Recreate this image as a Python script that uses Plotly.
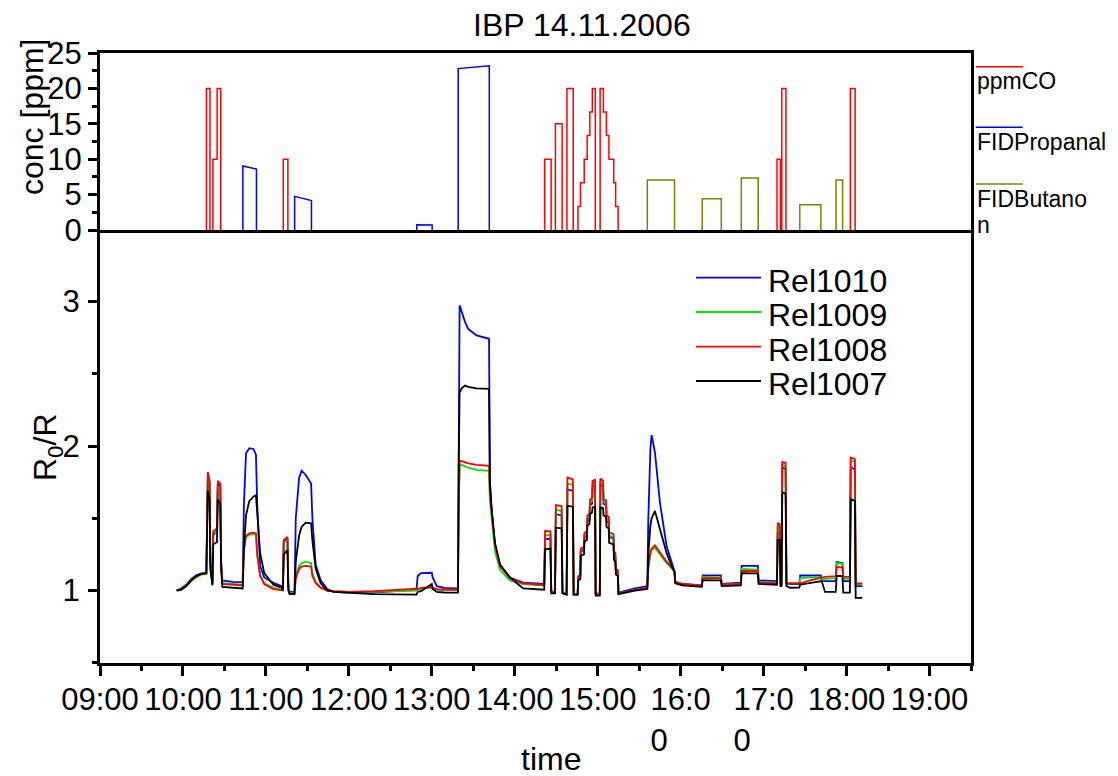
import plotly.graph_objects as go

W, H = 1118, 776
ML, MR, MT, MB = 100, 147, 53, 113
PW = W - ML - MR
PH = H - MT - MB
SPLIT_PX = 230


def px(x):
    return (x - ML) / PW


def py(y):
    return (H - MB - y) / PH


FONT = "Liberation Sans, Arial, sans-serif"

# ---------------- top panel data (ppm) ----------------
co_t = [9.924, 10.283, 10.326, 10.361, 10.412, 10.455, 11.209, 11.265,
        14.360, 14.438, 14.490, 14.571, 14.629, 14.705,
        14.762, 14.792, 14.837, 14.873, 14.905, 14.935, 14.971,
        15.029, 15.068, 15.104, 15.135, 15.193, 15.216, 15.246,
        17.162, 17.202, 17.219, 17.269, 18.046, 18.103, 18.19]
co_v = [0, 20, 0, 10, 20, 0, 10, 0,
        10, 0, 15, 0, 20, 0,
        3.33, 6.67, 10, 13.33, 16.67, 20, 0,
        20, 16.67, 13.33, 10, 6.67, 3.33, 0,
        10, 0, 20, 0, 20, 0, 0]

prop_start = [10.722, 11.346, 12.819, 13.318]
prop_end = [10.886, 11.549, 13.004, 13.693]
prop_v0 = [9.05, 4.75, 0.75, 22.8]
prop_v1 = [8.6, 4.15, 0.7, 23.2]

but_start = [15.598, 16.260, 16.731, 17.436, 17.873]
but_end = [15.926, 16.490, 16.935, 17.690, 17.952]
but_v = [7.05, 4.4, 7.33, 3.57, 7.05]

# ---------------- bottom panel data (R0/R) ----------------
rel_t = [9.924, 9.98, 10.04, 10.10, 10.16, 10.22, 10.282,
         10.29, 10.30, 10.322, 10.33, 10.355, 10.365, 10.41, 10.42, 10.45, 10.46, 10.475,
         10.60, 10.72, 10.735, 10.76, 10.80, 10.85, 10.88, 10.895, 10.93, 10.98, 11.09, 11.19,
         11.205, 11.215, 11.26, 11.27, 11.285, 11.345,
         11.36, 11.40, 11.43, 11.48, 11.545, 11.56, 11.60, 11.66, 11.74, 11.82,
         12.00, 12.30, 12.815, 12.83, 12.87, 13.00, 13.01, 13.06, 13.15, 13.315,
         13.325, 13.335, 13.36, 13.40, 13.44, 13.54, 13.69, 13.70, 13.722, 13.762, 13.823, 13.943, 14.10, 14.30,
         14.355, 14.365, 14.43, 14.44, 14.485, 14.495, 14.565, 14.575, 14.625, 14.635, 14.70, 14.71, 14.758,
         14.765, 14.79, 14.795, 14.835, 14.84, 14.87, 14.875, 14.90, 14.907, 14.932, 14.938, 14.968, 14.975, 15.025,
         15.032, 15.065, 15.07, 15.10, 15.107, 15.133, 15.138, 15.19, 15.196, 15.213, 15.219, 15.243, 15.25,
         15.32, 15.45, 15.598, 15.61, 15.635, 15.65, 15.69, 15.75, 15.83, 15.89, 15.925, 15.935, 16.02,
         16.255, 16.265, 16.485, 16.495, 16.725, 16.735, 16.93, 16.94,
         17.16, 17.17, 17.195, 17.205, 17.215, 17.225, 17.265, 17.275, 17.32, 17.43,
         17.44, 17.56, 17.69, 17.70, 17.74, 17.87, 17.88, 17.95, 17.96, 18.04, 18.05, 18.10, 18.11, 18.19]

rel1010 = [1.00, 1.015, 1.04, 1.08, 1.105, 1.118, 1.12,
           1.62, 1.80, 1.74, 1.20, 1.05, 1.38, 1.42, 1.74, 1.72, 1.20, 1.07,
           1.06, 1.058, 1.60, 1.95, 1.985, 1.98, 1.94, 1.60, 1.17, 1.09, 1.053, 1.03,
           1.03, 1.34, 1.36, 1.05, 0.99, 0.99,
           1.50, 1.78, 1.83, 1.80, 1.74, 1.50, 1.18, 1.07, 1.01, 0.99,
           0.985, 0.985, 1.005, 1.10, 1.12, 1.123, 1.09, 1.03, 1.018, 1.015,
           2.00, 2.974, 2.93, 2.86, 2.81, 2.766, 2.743, 1.75, 1.54, 1.31, 1.17, 1.09, 1.055, 1.045,
           1.045, 1.354, 1.36, 1.00, 0.985, 1.528, 1.52, 0.985, 0.975, 1.70, 1.69, 0.975, 0.975,
           1.08, 1.09, 1.27, 1.28, 1.37, 1.38, 1.48, 1.49, 1.59, 1.60, 1.72, 1.73, 0.98, 0.975,
           1.73, 1.72, 1.60, 1.59, 1.48, 1.47, 1.37, 1.36, 1.24, 1.23, 1.13, 1.12, 0.985,
           0.995, 1.015, 1.03, 1.50, 1.98, 2.076, 1.956, 1.609, 1.308, 1.192, 1.134, 1.06, 1.045,
           1.035, 1.105, 1.105, 1.045, 1.055, 1.17, 1.17, 1.07,
           1.065, 1.40, 1.40, 1.04, 1.04, 1.85, 1.84, 1.05, 1.045, 1.045,
           1.104, 1.104, 1.104, 1.065, 1.065, 1.065, 1.197, 1.19, 1.065, 1.065, 1.85, 1.84, 1.03, 1.03]

rel1009 = [1.00, 1.01, 1.03, 1.065, 1.09, 1.11, 1.115,
           1.60, 1.78, 1.72, 1.18, 1.045, 1.40, 1.41, 1.72, 1.70, 1.18, 1.05,
           1.045, 1.04, 1.28, 1.37, 1.385, 1.39, 1.385, 1.25, 1.11, 1.05, 1.02, 1.005,
           1.01, 1.33, 1.35, 1.03, 0.985, 0.985,
           1.10, 1.17, 1.19, 1.20, 1.19, 1.12, 1.06, 1.02, 1.00, 0.995,
           0.99, 0.99, 1.00, 1.005, 1.012, 1.02, 1.015, 1.005, 1.003, 1.003,
           1.60, 1.875, 1.87, 1.86, 1.85, 1.835, 1.828, 1.62, 1.50, 1.27, 1.14, 1.07, 1.045, 1.035,
           1.035, 1.38, 1.385, 0.99, 0.985, 1.56, 1.55, 0.985, 0.975, 1.74, 1.73, 0.975, 0.975,
           1.09, 1.095, 1.28, 1.29, 1.39, 1.40, 1.50, 1.51, 1.61, 1.62, 1.74, 1.75, 0.98, 0.975,
           1.75, 1.74, 1.62, 1.61, 1.50, 1.49, 1.38, 1.37, 1.25, 1.24, 1.14, 1.13, 0.98,
           0.99, 1.005, 1.02, 1.15, 1.25, 1.28, 1.296, 1.25, 1.19, 1.155, 1.13, 1.055, 1.04,
           1.03, 1.095, 1.09, 1.04, 1.045, 1.15, 1.145, 1.06,
           1.055, 1.44, 1.44, 1.04, 1.04, 1.87, 1.86, 1.05, 1.05, 1.05,
           1.085, 1.09, 1.09, 1.075, 1.08, 1.085, 1.19, 1.185, 1.08, 1.08, 1.90, 1.89, 1.045, 1.045]

rel1008 = [1.00, 1.01, 1.035, 1.075, 1.10, 1.115, 1.12,
           1.64, 1.82, 1.76, 1.19, 1.05, 1.41, 1.43, 1.76, 1.74, 1.19, 1.045,
           1.04, 1.035, 1.28, 1.38, 1.395, 1.40, 1.395, 1.25, 1.10, 1.045, 1.01, 1.00,
           1.00, 1.35, 1.37, 1.02, 0.98, 0.98,
           1.08, 1.15, 1.165, 1.17, 1.165, 1.10, 1.05, 1.02, 1.00, 0.995,
           0.99, 0.995, 1.007, 1.012, 1.018, 1.025, 1.02, 1.01, 1.007, 1.007,
           1.60, 1.898, 1.895, 1.885, 1.88, 1.87, 1.863, 1.68, 1.54, 1.31, 1.165, 1.085, 1.05, 1.04,
           1.038, 1.412, 1.41, 0.99, 0.985, 1.591, 1.585, 0.985, 0.975, 1.782, 1.77, 0.975, 0.975,
           1.10, 1.105, 1.29, 1.30, 1.40, 1.41, 1.52, 1.53, 1.63, 1.64, 1.76, 1.765, 0.98, 0.975,
           1.775, 1.76, 1.63, 1.625, 1.52, 1.51, 1.40, 1.39, 1.27, 1.26, 1.15, 1.14, 0.98,
           0.99, 1.005, 1.02, 1.16, 1.27, 1.29, 1.312, 1.26, 1.20, 1.16, 1.13, 1.06, 1.045,
           1.035, 1.085, 1.085, 1.04, 1.045, 1.135, 1.135, 1.055,
           1.05, 1.465, 1.46, 1.04, 1.04, 1.891, 1.885, 1.05, 1.049, 1.05,
           1.05, 1.07, 1.09, 1.09, 1.095, 1.10, 1.163, 1.16, 1.095, 1.095, 1.921, 1.91, 1.049, 1.049]

rel1007 = [1.00, 1.005, 1.03, 1.07, 1.10, 1.115, 1.12,
           1.48, 1.69, 1.62, 1.15, 1.035, 1.32, 1.335, 1.63, 1.60, 1.15, 1.025,
           1.02, 1.014, 1.30, 1.52, 1.62, 1.65, 1.66, 1.55, 1.26, 1.12, 1.04, 1.02,
           1.00, 1.25, 1.28, 1.00, 0.975, 0.975,
           1.20, 1.38, 1.44, 1.47, 1.465, 1.35, 1.15, 1.05, 1.00, 0.99,
           0.985, 0.975, 0.972, 0.99, 0.995, 1.045, 1.01, 0.99, 0.986, 0.985,
           1.90, 2.37, 2.40, 2.419, 2.41, 2.40, 2.396, 1.75, 1.56, 1.33, 1.18, 1.09, 1.015, 1.007,
           1.005, 1.285, 1.29, 0.98, 0.98, 1.435, 1.43, 0.98, 0.97, 1.586, 1.58, 0.97, 0.97,
           1.07, 1.08, 1.24, 1.25, 1.34, 1.35, 1.45, 1.46, 1.53, 1.54, 1.575, 1.58, 0.965, 0.965,
           1.575, 1.57, 1.52, 1.51, 1.44, 1.43, 1.33, 1.32, 1.21, 1.20, 1.11, 1.10, 0.975,
           0.985, 1.00, 1.01, 1.25, 1.45, 1.50, 1.551, 1.42, 1.26, 1.17, 1.134, 1.05, 1.035,
           1.025, 1.071, 1.07, 1.03, 1.035, 1.12, 1.118, 1.045,
           1.04, 1.35, 1.35, 1.03, 1.03, 1.678, 1.67, 1.03, 1.019, 1.02,
           1.04, 1.05, 1.065, 1.065, 0.99, 0.99, 1.102, 1.10, 0.985, 0.985, 1.633, 1.62, 0.949, 0.949]

rel_names = ["Rel1010", "Rel1009", "Rel1008", "Rel1007"]
rel_colors = ["#0000FF", "#00E600", "#FF0000", "#000000"]
rel_series = [rel1010, rel1009, rel1008, rel1007]

top_names = ["ppmCO", "FIDPropanal", "FIDButanon"]
top_colors = ["#FF0000", "#0000FF", "#808000"]

x_tickvals = [9, 10, 11, 12, 13, 14, 15, 16, 17, 18, 19]
x_ticktext = ["09:00", "10:00", "11:00", "12:00", "13:00", "14:00", "15:00",
              "16:0<br>0" + "\u00a0" * 5, "17:0<br>0" + "\u00a0" * 5, "18:00", "19:00"]


def step_path(ts, vs):
    """Step (hv) outline of a breakpoint series, leaving the zero baseline undrawn."""
    xs, ys = [], []
    for i in range(len(ts) - 1):
        v = vs[i]
        if v == 0:
            continue
        prev = vs[i - 1] if i > 0 else 0
        if prev == 0:
            if xs:
                xs.append(None)
                ys.append(None)
            xs += [ts[i], ts[i]]
            ys += [0, v]
        else:
            xs.append(ts[i])
            ys.append(v)
        xs.append(ts[i + 1])
        ys.append(v)
        if vs[i + 1] == 0:
            xs.append(ts[i + 1])
            ys.append(0)
    return xs, ys


def pulse_path(starts, ends, v0s, v1s):
    xs, ys = [], []
    for s, e, a, b in zip(starts, ends, v0s, v1s):
        xs += [s, s, e, e, None]
        ys += [0, a, b, 0, None]
    return xs, ys


fig = go.Figure()

# top panel traces
cxs, cys = step_path(co_t, co_v)
fig.add_trace(go.Scatter(x=cxs, y=cys, mode="lines", line=dict(color=top_colors[0], width=1.5),
                         connectgaps=False, name=top_names[0], xaxis="x2", yaxis="y2"))
pxs, pys = pulse_path(prop_start, prop_end, prop_v0, prop_v1)
fig.add_trace(go.Scatter(x=pxs, y=pys, mode="lines", line=dict(color=top_colors[1], width=1.5),
                         connectgaps=False, name=top_names[1], xaxis="x2", yaxis="y2"))
bxs, bys = pulse_path(but_start, but_end, but_v, but_v)
fig.add_trace(go.Scatter(x=bxs, y=bys, mode="lines", line=dict(color=top_colors[2], width=1.5),
                         connectgaps=False, name=top_names[2], xaxis="x2", yaxis="y2"))

# bottom panel traces
for nm, col, ser in zip(rel_names, rel_colors, rel_series):
    fig.add_trace(go.Scatter(x=rel_t, y=ser, mode="lines", line=dict(color=col, width=1.8),
                             name=nm, xaxis="x", yaxis="y"))

split = py(SPLIT_PX)

axis_common = dict(showline=True, linecolor="black", linewidth=3,
                   showgrid=False, zeroline=False, tickcolor="black",
                   tickfont=dict(family=FONT, size=31, color="black"))

fig.update_layout(
    width=W, height=H,
    margin=dict(l=ML, r=MR, t=MT, b=MB),
    paper_bgcolor="white", plot_bgcolor="white",
    showlegend=False,
    font=dict(family=FONT, color="black"),
    xaxis=dict(domain=[0, 1], anchor="y", range=[9, 19.5], mirror=False,
               tickmode="array", tickvals=x_tickvals, ticktext=x_ticktext,
               ticks="outside", ticklen=10, tickwidth=3, ticklabelstandoff=-3,
               minor=dict(tickmode="linear", tick0=9, dtick=0.5, ticks="outside",
                          ticklen=5, tickwidth=3, tickcolor="black"),
               **axis_common),
    xaxis2=dict(domain=[0, 1], anchor="y2", matches="x", range=[9, 19.5], mirror=True,
                showticklabels=False, ticks="", **axis_common),
    yaxis=dict(domain=[0, split], anchor="x", range=[0.498, 3.496], mirror=True,
               tickmode="array", tickvals=[1, 2, 3],
               ticks="outside", ticklen=9, tickwidth=3, ticklabelstandoff=2,
               minor=dict(tickmode="linear", tick0=0.5, dtick=1, ticks="outside",
                          ticklen=5, tickwidth=3, tickcolor="black"),
               **axis_common),
    yaxis2=dict(domain=[split, 1], anchor="x2", range=[0, 25], mirror=True,
                tickmode="linear", tick0=0, dtick=5,
                ticks="outside", ticklen=9, tickwidth=3,
                minor=dict(tickmode="linear", tick0=2.5, dtick=5, ticks="outside",
                           ticklen=5, tickwidth=3, tickcolor="black"),
                **axis_common),
)

ann = []
shapes = []


def text_at(x, y, s, size, angle=0, xanchor="center", yanchor="middle"):
    ann.append(dict(x=px(x), y=py(y), xref="paper", yref="paper", text=s, showarrow=False,
                    textangle=angle, xanchor=xanchor, yanchor=yanchor,
                    font=dict(family=FONT, size=size, color="black")))


text_at(582, 25, "IBP 14.11.2006", 32)
text_at(32, 117, "conc [ppm]", 32, angle=-90)
text_at(47, 447, "R<sub>0</sub>/R", 32, angle=-90)
text_at(551, 759, "time", 32)

# top legend (outside right)
top_leg_y = [66.7, 127.3, 184.0]
top_leg_text_y = [81, 141.5, 199]
for nm, col, ly in zip(top_names, top_colors, top_leg_y):
    shapes.append(dict(type="line", xref="paper", yref="paper", x0=px(975.7), x1=px(1022.7),
                       y0=py(ly), y1=py(ly), line=dict(color=col, width=1.5)))
for s, ty in zip(["ppmCO", "FIDPropanal", "FIDButano"], top_leg_text_y):
    text_at(975, ty, s, 23, xanchor="left")
text_at(975, 225, "n", 23, xanchor="left")

# bottom legend (inside)
bot_leg_y = [277.7, 312.0, 346.7, 381.0]
for nm, col, ly in zip(rel_names, rel_colors, bot_leg_y):
    shapes.append(dict(type="line", xref="paper", yref="paper", x0=px(696), x1=px(761),
                       y0=py(ly), y1=py(ly), line=dict(color=col, width=1.8)))
    text_at(766, ly + 3, nm, 32, xanchor="left")

fig.update_layout(annotations=ann, shapes=shapes)

fig.write_html("out.html")
